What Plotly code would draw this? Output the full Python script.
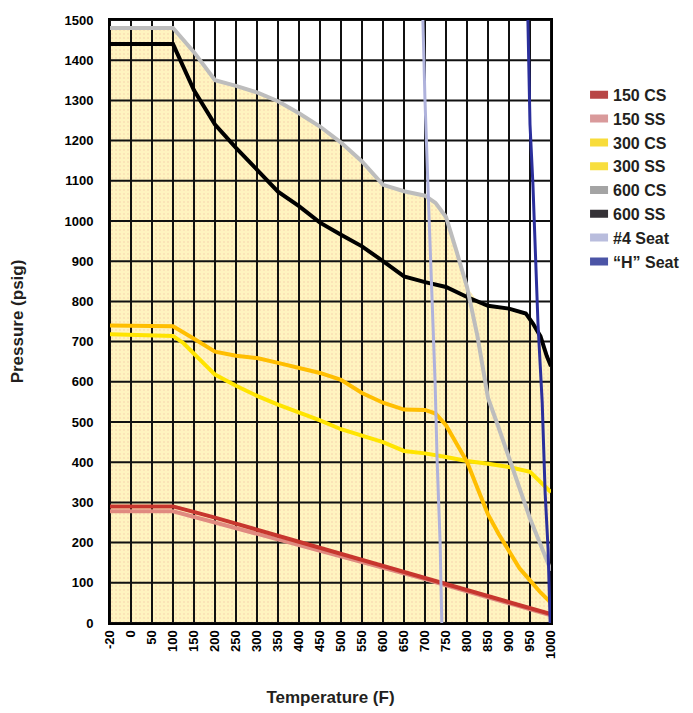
import numpy as np
import plotly.graph_objects as go

# ---- axis categories (temperature, F) ----
tick_temps = [-20, 0, 50, 100, 150, 200, 250, 300, 350, 400, 450, 500,
              550, 600, 650, 700, 750, 800, 850, 900, 950, 1000]
tick_labels = ["-20", "0", "50", "100", "150", "200", "250", "300", "350", "400", "450", "500",
               "550", "600", "650", "700", "750", "800", "850", "900", "950", "1000"]
y_ticks = [0, 100, 200, 300, 400, 500, 600, 700, 800, 900, 1000, 1100, 1200, 1300, 1400, 1500]

# ---- series ----
t_150 = [-20, 100, 200, 300, 400, 500, 600, 650, 700, 750, 800, 850, 900, 950, 1000]
cs150 = [290, 290, 262, 232, 202, 172, 142, 127, 112, 96, 81, 66, 51, 36, 22]
ss150 = [278, 278, 250, 222, 194, 167, 138, 124, 109, 94, 79, 64, 49, 34, 19]

t_cs300 = [-20, 100, 150, 200, 250, 300, 350, 400, 450, 500, 550, 600, 650, 700, 725,
           750, 775, 800, 825, 850, 875, 900, 925, 950, 975, 1000]
cs300 = [740, 738, 707, 675, 665, 659, 647, 634, 622, 605, 572, 548, 531, 530, 521,
         492, 447, 401, 335, 270, 222, 180, 136, 106, 76, 50]

t_ss300 = [-20, 100, 125, 150, 200, 250, 300, 350, 400, 450, 500, 550, 600, 650, 700,
           750, 800, 850, 900, 950, 975, 1000]
ss300 = [718, 714, 696, 670, 618, 590, 565, 543, 524, 504, 482, 465, 450, 428, 422,
         413, 403, 396, 388, 376, 352, 325]

t_cs600 = [-20, 100, 150, 200, 250, 300, 350, 400, 450, 500, 550, 600, 650, 700, 725,
           750, 775, 800, 825, 850, 875, 900, 925, 950, 975, 1000]
cs600 = [1480, 1480, 1420, 1350, 1336, 1320, 1298, 1268, 1235, 1195, 1148, 1090, 1074, 1063, 1045,
         1010, 925, 836, 713, 560, 487, 411, 335, 260, 195, 130]

t_ss600 = [-20, 100, 150, 200, 250, 300, 350, 400, 450, 500, 550, 600, 650, 700, 750,
           800, 850, 900, 940, 957, 975, 990, 1000]
ss600 = [1440, 1440, 1325, 1240, 1182, 1128, 1073, 1037, 996, 966, 937, 900, 862, 848, 836,
         811, 789, 782, 770, 745, 713, 664, 639]

seat4_p = [1500, 1300, 1000, 600, 400, 200, 0]
seat4_t = [695, 700, 710, 724, 729, 736, 740]

seatH_p = [1500, 1240, 1090, 940, 745, 550, 325, 185, 0]
seatH_t = [945, 950, 957, 962, 969, 979, 986, 993, 998]

legend_names = ["150 CS", "150 SS", "300 CS", "300 SS", "600 CS", "600 SS", "#4 Seat", "\u201cH\u201d Seat"]
legend_colors = ["#B84646", "#D99A9B", "#F8DC3A", "#F8DE3E", "#A4A4A4", "#353237", "#B9BDDD", "#4B54A6"]

idx = np.arange(len(tick_temps))


def pos(t):
    # equal-spaced category positions of the temperature axis
    return np.interp(np.asarray(t, dtype=float), tick_temps, idx)


fig = go.Figure()

# envelope fill (area under the highest 600 class curve)
u = np.union1d(t_cs600, t_ss600)
env = np.maximum(np.interp(u, t_cs600, cs600), np.interp(u, t_ss600, ss600))
fig.add_trace(go.Scatter(
    x=pos(u), y=env, mode="none", fill="tozeroy",
    fillcolor="#FFF4C0",
    fillpattern=dict(shape=".", bgcolor="#FFF4C0", fgcolor="#F6C9A8", size=4, solidity=0.2),
    showlegend=False, hoverinfo="skip"))

# grid drawn above the fill
gx, gy = [], []
for i in idx:
    gx += [i, i, None]
    gy += [0, 1500, None]
for v in y_ticks:
    gx += [0, idx[-1], None]
    gy += [v, v, None]
fig.add_trace(go.Scatter(x=gx, y=gy, mode="lines", line=dict(color="#111111", width=2),
                         showlegend=False, hoverinfo="skip"))

lw = 4
fig.add_trace(go.Scatter(x=pos(t_150), y=ss150, mode="lines", line=dict(color="#E08A80", width=lw),
                         showlegend=False, name="150 SS"))
fig.add_trace(go.Scatter(x=pos(t_150), y=cs150, mode="lines", line=dict(color="#C7362E", width=lw),
                         showlegend=False, name="150 CS"))
fig.add_trace(go.Scatter(x=pos(t_ss300), y=ss300, mode="lines", line=dict(color="#FFE400", width=lw),
                         showlegend=False, name="300 SS"))
fig.add_trace(go.Scatter(x=pos(t_cs300), y=cs300, mode="lines", line=dict(color="#FFBE00", width=lw),
                         showlegend=False, name="300 CS"))
fig.add_trace(go.Scatter(x=pos(t_ss600), y=ss600, mode="lines", line=dict(color="#000000", width=lw),
                         showlegend=False, name="600 SS"))
fig.add_trace(go.Scatter(x=pos(t_cs600), y=cs600, mode="lines", line=dict(color="#BDBDBD", width=lw),
                         showlegend=False, name="600 CS"))
fig.add_trace(go.Scatter(x=pos(seat4_t), y=seat4_p, mode="lines", line=dict(color="#AFB2DC", width=3),
                         showlegend=False, name="#4 Seat"))
fig.add_trace(go.Scatter(x=pos(seatH_t), y=seatH_p, mode="lines", line=dict(color="#2B2F9C", width=3),
                         showlegend=False, name="\u201cH\u201d Seat"))

# legend swatches (short rectangles next to the text)
for n, c in zip(legend_names, legend_colors):
    fig.add_trace(go.Scatter(x=[None], y=[None], mode="lines",
                             line=dict(color=c, width=8, dash="0px,12px,18px,100px"), name=n))

tickfont = dict(family="Liberation Sans", size=13, color="#000000", weight="bold")
titlefont = dict(family="Liberation Sans", size=17, color="#231F20", weight="bold")

fig.update_layout(
    width=693, height=713,
    margin=dict(l=102, r=150, t=5, b=98),
    paper_bgcolor="white", plot_bgcolor="white",
    showlegend=True,
    legend=dict(x=1.05, y=0.904, xanchor="left", yanchor="top",
                font=dict(family="Liberation Sans", size=16, color="#231F20", weight="bold"),
                bgcolor="rgba(0,0,0,0)", itemwidth=30),
    xaxis=dict(range=[0, idx[-1]], tickvals=idx, ticktext=tick_labels, tickangle=-90,
               showgrid=False, zeroline=False, showline=True, mirror=True,
               linecolor="#000000", linewidth=2, ticks="", tickfont=tickfont,
               title=dict(text="Temperature (F)", font=titlefont, standoff=33)),
    yaxis=dict(range=[0, 1500], tickvals=y_ticks, showgrid=False, zeroline=False,
               showline=True, mirror=True, linecolor="#000000", linewidth=2, ticks="",
               tickfont=tickfont, ticklabelstandoff=12, ticklabeloverflow="allow",
               title=dict(text="Pressure (psig)", font=titlefont, standoff=37)),
)

fig.write_html("out.html")
